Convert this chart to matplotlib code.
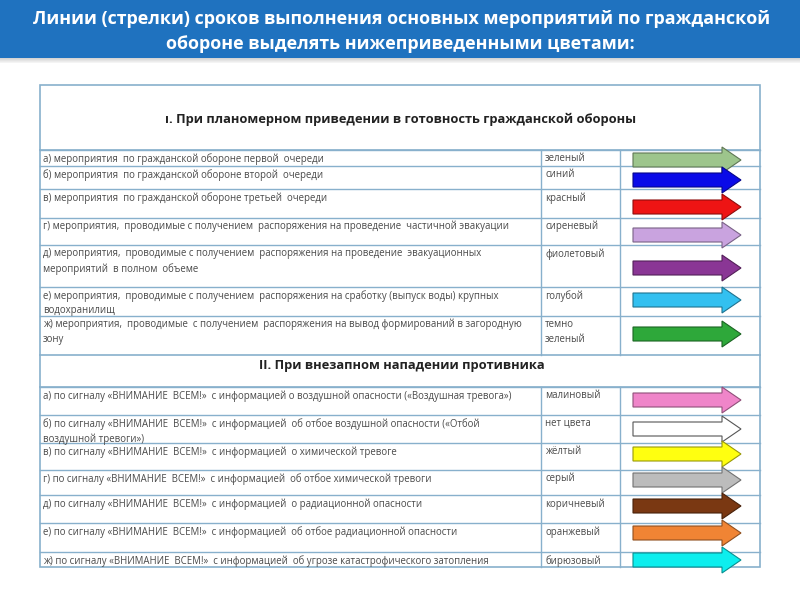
import matplotlib.pyplot as plt
from matplotlib.patches import Rectangle, FancyArrow
import matplotlib.colors as mcolors

plt.rcParams['font.family'] = ['Open Sans', 'DejaVu Sans']

title_lines = ['Линии (стрелки) сроков выполнения основных мероприятий по гражданской',
               'обороне выделять нижеприведенными цветами:']

section1 = 'ı. При планомерном приведении в готовность гражданской обороны'
section2 = 'II. При внезапном нападении противника'

rows1 = ['а) мероприятия  по гражданской обороне первой  очереди',
         'б) мероприятия  по гражданской обороне второй  очереди',
         'в) мероприятия  по гражданской обороне третьей  очереди',
         'г) мероприятия,  проводимые с получением  распоряжения на проведение  частичной эвакуации',
         'д) мероприятия,  проводимые с получением  распоряжения на проведение  эвакуационных\nмероприятий  в полном  объеме',
         'е) мероприятия,  проводимые с получением  распоряжения на сработку (выпуск воды) крупных\nводохранилищ',
         'ж) мероприятия,  проводимые  с получением  распоряжения на вывод формирований в загородную\nзону']
names1 = ['зеленый', 'синий', 'красный', 'сиреневый', 'фиолетовый', 'голубой', 'темно\nзеленый']
colors1 = ['#9dc58c', '#0a0ae8', '#ee1414', '#c9a3df', '#8a3695', '#33c0f0', '#2ea83a']

rows2 = ['а) по сигналу «ВНИМАНИЕ  ВСЕМ!»  с информацией о воздушной опасности («Воздушная тревога»)',
         'б) по сигналу «ВНИМАНИЕ  ВСЕМ!»  с информацией  об отбое воздушной опасности («Отбой\nвоздушной тревоги»)',
         'в) по сигналу «ВНИМАНИЕ  ВСЕМ!»  с информацией  о химической тревоге',
         'г) по сигналу «ВНИМАНИЕ  ВСЕМ!»  с информацией  об отбое химической тревоги',
         'д) по сигналу «ВНИМАНИЕ  ВСЕМ!»  с информацией  о радиационной опасности',
         'е) по сигналу «ВНИМАНИЕ  ВСЕМ!»  с информацией  об отбое радиационной опасности',
         'ж) по сигналу «ВНИМАНИЕ  ВСЕМ!»  с информацией  об угрозе катастрофического затопления']
names2 = ['малиновый', 'нет цвета', 'жёлтый', 'серый', 'коричневый', 'оранжевый', 'бирюзовый']
colors2 = ['#ef85c9', '#ffffff', '#ffff10', '#bcbcbc', '#7a3812', '#f08434', '#0deeee']

# layout (pixels)
row_top1 = [150, 166, 189, 218, 245, 287, 316]
row_top2 = [387, 415, 443, 470, 495, 523, 552]
arrow_y1 = [160, 180, 207, 235, 268, 300, 334]
arrow_y2 = [400, 429, 454, 480, 506, 533, 560]
x_left, x_c1, x_c2, x_right = 40, 541, 620, 760
y_top, y_sec2, y_bottom = 85, 355, 567
line_col = '#88b0cc'

fig = plt.figure(figsize=(8, 6), dpi=100)
ax = fig.add_axes([0, 0, 1, 1])
ax.set_xlim(0, 800)
ax.set_ylim(600, 0)
ax.axis('off')

# header band
for i in range(6):
    ax.add_patch(Rectangle((0, 57 + i), 800, 1, color='#707070', alpha=0.35 - i * 0.055, lw=0))
ax.add_patch(Rectangle((0, 0), 800, 58, color='#1f72bf', lw=0))
ax.text(402, 19, title_lines[0], color='white', fontsize=12.9, fontweight='bold', ha='center', va='center')
ax.text(400, 44, title_lines[1], color='white', fontsize=12.9, fontweight='bold', ha='center', va='center')

# table outline
ax.add_patch(Rectangle((x_left, y_top), x_right - x_left, y_bottom - y_top, fill=False, ec=line_col, lw=1.2))

def draw_section(tops, bottom, texts, names, cols, ays):
    ax.plot([x_left, x_right], [tops[0], tops[0]], color=line_col, lw=1.2)
    for x in (x_c1, x_c2):
        ax.plot([x, x], [tops[0], bottom], color=line_col, lw=1)
    for t, txt, nm in zip(tops, texts, names):
        ax.plot([x_left, x_right], [t, t], color=line_col, lw=1)
        ax.text(x_left + 3, t + 3, txt, fontsize=6.9, color='#4a4a4a', va='top', ha='left',
                linespacing=1.45)
        ax.text(x_c1 + 4, t + 3, nm, fontsize=6.9, color='#4a4a4a', va='top', ha='left',
                linespacing=1.45)
    for y, c in zip(ays, cols):
        ec = tuple(v * 0.6 for v in mcolors.to_rgb(c)) if c != '#ffffff' else '#555555'
        ax.add_patch(FancyArrow(633, y, 108, 0, width=14, head_width=26, head_length=19,
                                length_includes_head=True, fc=c, ec=ec, lw=0.8, zorder=3))

draw_section(row_top1, y_sec2, rows1, names1, colors1, arrow_y1)
draw_section(row_top2, y_bottom, rows2, names2, colors2, arrow_y2)
ax.plot([x_left, x_right], [y_sec2, y_sec2], color=line_col, lw=1.2)

ax.text(401, 119, section1, fontsize=9.3, fontweight='bold', color='#222222', ha='center', va='center')
ax.text(402, 366, section2, fontsize=9.3, fontweight='bold', color='#222222', ha='center', va='center')

fig.savefig('out.png', dpi=100)
